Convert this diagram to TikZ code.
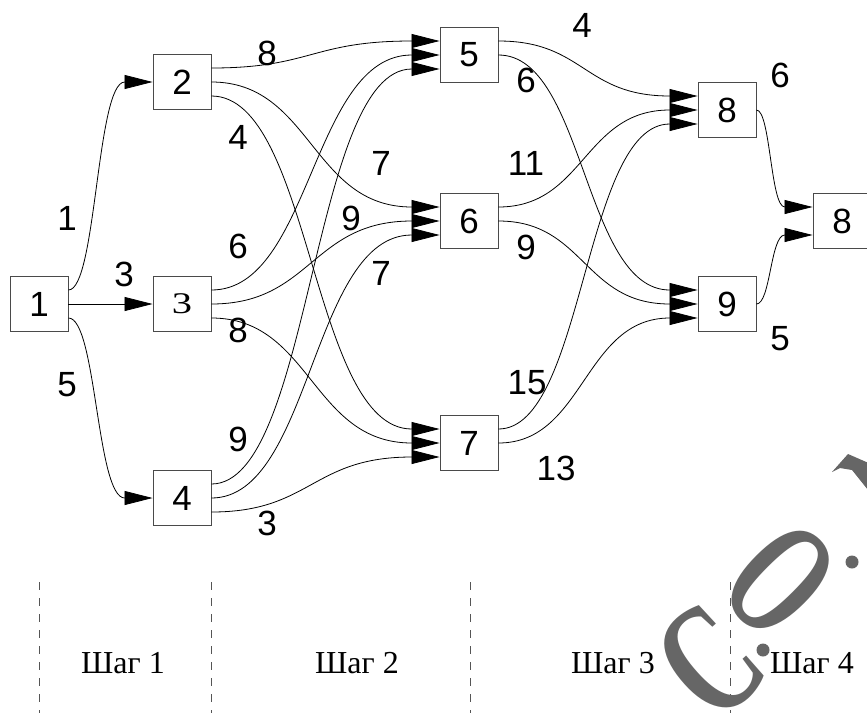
\documentclass[tikz,border=0pt]{standalone}
\usepackage{fontspec}
\usetikzlibrary{arrows.meta,calc}
\newfontfamily\arialfnt{Liberation Sans}
\newfontfamily\tmsfnt{Liberation Serif}
\definecolor{boxgray}{HTML}{4A4A4A}
\definecolor{dashgray}{HTML}{555555}
\definecolor{wmgray}{HTML}{666666}
\tikzset{
  box/.style={draw=boxgray, line width=0.9pt, minimum width=58pt, minimum height=55pt, inner sep=0pt, font=\arialfnt\fontsize{35}{40}\selectfont},
  lbl/.style={inner sep=0pt, font=\arialfnt\fontsize{35}{40}\selectfont},
  steplbl/.style={inner sep=0pt, font=\tmsfnt\fontsize{32}{36}\selectfont},
  edge/.style={draw=black, line width=0.8pt, -{Triangle[length=28pt,width=14pt]}},
  sc/.style={to path={.. controls ($(\tikztostart)+(#1,0)$) and ($(\tikztotarget)+(-#1-28,0)$) .. (\tikztotarget)}},
  divider/.style={draw=dashgray, line width=0.8pt, dash pattern=on 8pt off 8pt},
  wm/.style={text=wmgray, inner sep=0pt, transform shape, font=\tmsfnt\bfseries\fontsize{160}{165}\selectfont},
}
\begin{document}
\begin{tikzpicture}[x=1pt,y=-1pt]
\useasboundingbox (0,0) rectangle (867,713);
\clip (0,0) rectangle (867,713);
\fill[white] (0,0) rectangle (867,713);

% boxes
\node[box] (n1) at (39,304) {1};
\node[box] (n2) at (182,82) {2};
\node[box, font=\tmsfnt\fontsize{30}{33}\selectfont] (n3) at (182,304) {\scalebox{1.35}[1]{3}};
\node[box] (n4) at (182,498) {4};
\node[box] (n5) at (469,55) {5};
\node[box] (n6) at (469,221) {6};
\node[box] (n7) at (469,443) {7};
\node[box] (n8) at (727,110) {8};
\node[box] (n9) at (727,304) {9};
\node[box] (n10) at (842,221) {8};

% ports
\foreach \n in {n1,n2,n3,n4,n5,n6,n7,n8,n9,n10}{
  \coordinate (\n-ot) at ($(\n.east)+(0,-14)$);
  \coordinate (\n-om) at (\n.east);
  \coordinate (\n-ob) at ($(\n.east)+(0,14)$);
  \coordinate (\n-it) at ($(\n.west)+(0,-14)$);
  \coordinate (\n-im) at (\n.west);
  \coordinate (\n-ib) at ($(\n.west)+(0,14)$);
}

% stage 1
\draw[edge] (n1-ot) to[sc=28] (n2-im);
\draw[edge] (n1-om) -- (n3-im);
\draw[edge] (n1-ob) to[sc=28] (n4-im);
% stage 2
\draw[edge] (n2-ot) to[sc=100] (n5-it);
\draw[edge] (n2-om) to[sc=100] (n6-it);
\draw[edge] (n2-ob) to[sc=100] (n7-it);
\draw[edge] (n3-ot) to[sc=100] (n5-im);
\draw[edge] (n3-om) to[sc=100] (n6-im);
\draw[edge] (n3-ob) to[sc=100] (n7-im);
\draw[edge] (n4-ot) to[sc=100] (n5-ib);
\draw[edge] (n4-om) to[sc=100] (n6-ib);
\draw[edge] (n4-ob) to[sc=100] (n7-ib);
% stage 3
\draw[edge] (n5-ot) to[sc=86] (n8-it);
\draw[edge] (n5-om) to[sc=86] (n9-it);
\draw[edge] (n6-ot) to[sc=86] (n8-im);
\draw[edge] (n6-om) to[sc=86] (n9-im);
\draw[edge] (n7-ot) to[sc=86] (n8-ib);
\draw[edge] (n7-om) to[sc=86] (n9-ib);
% stage 4
\draw[edge] (n8-om) to[sc=14] (n10-it);
\draw[edge] (n9-om) to[sc=14] (n10-ib);

% edge weights
\node[lbl] (l12) at (67,218) {1};
\node[lbl] (l13) at (124,274) {3};
\node[lbl] (l14) at (67,385) {5};
\node[lbl] (l25) at (267,53) {8};
\node[lbl] (l27) at (238,137) {4};
\node[lbl] (l26) at (381,163) {7};
\node[lbl] (l36) at (351,218) {9};
\node[lbl] (l35) at (238,246) {6};
\node[lbl] (l46) at (381,273) {7};
\node[lbl] (l37) at (238,330) {8};
\node[lbl] (l45) at (238,439) {9};
\node[lbl] (l47) at (267,523) {3};
\node[lbl] (l58) at (582,25) {4};
\node[lbl] (l59) at (526,80) {6};
\node[lbl] (l810) at (780,75) {6};
\node[lbl] (l68) at (526,163) {11};
\node[lbl] (l69) at (526,247) {9};
\node[lbl] (l78) at (527,383) {15};
\node[lbl] (l79) at (556,468) {13};
\node[lbl] (l910) at (780,339) {5};

% stage dividers
\foreach \x in {39,211,470,730}{
  \draw[divider] (\x,582) -- (\x,713);
}
\node[steplbl] (s1) at (123,663) {Шаг 1};
\node[steplbl] (s2) at (357,663) {Шаг 2};
\node[steplbl] (s3) at (613,663) {Шаг 3};
\node[steplbl] (s4) at (812,663) {Шаг 4};

% watermark
\begin{scope}[shift={(710,661)}, rotate=42, xscale=0.68]
  \node[wm] (wmC) at (0,0) {C};
\end{scope}
\begin{scope}[shift={(781,580)}, rotate=-45, xscale=0.62, yscale=1.05]
  \node[wm] (wmO) at (0,0) {O};
\end{scope}
\fill[wmgray] (763,650) circle[radius=6.5];
\fill[wmgray] (852,562) circle[radius=6.5];
\fill[wmgray] (832,472) -- (848,454) -- (880,468) -- (880,505) -- (852,470) -- (840,468) -- cycle;
\end{tikzpicture}
\end{document}
